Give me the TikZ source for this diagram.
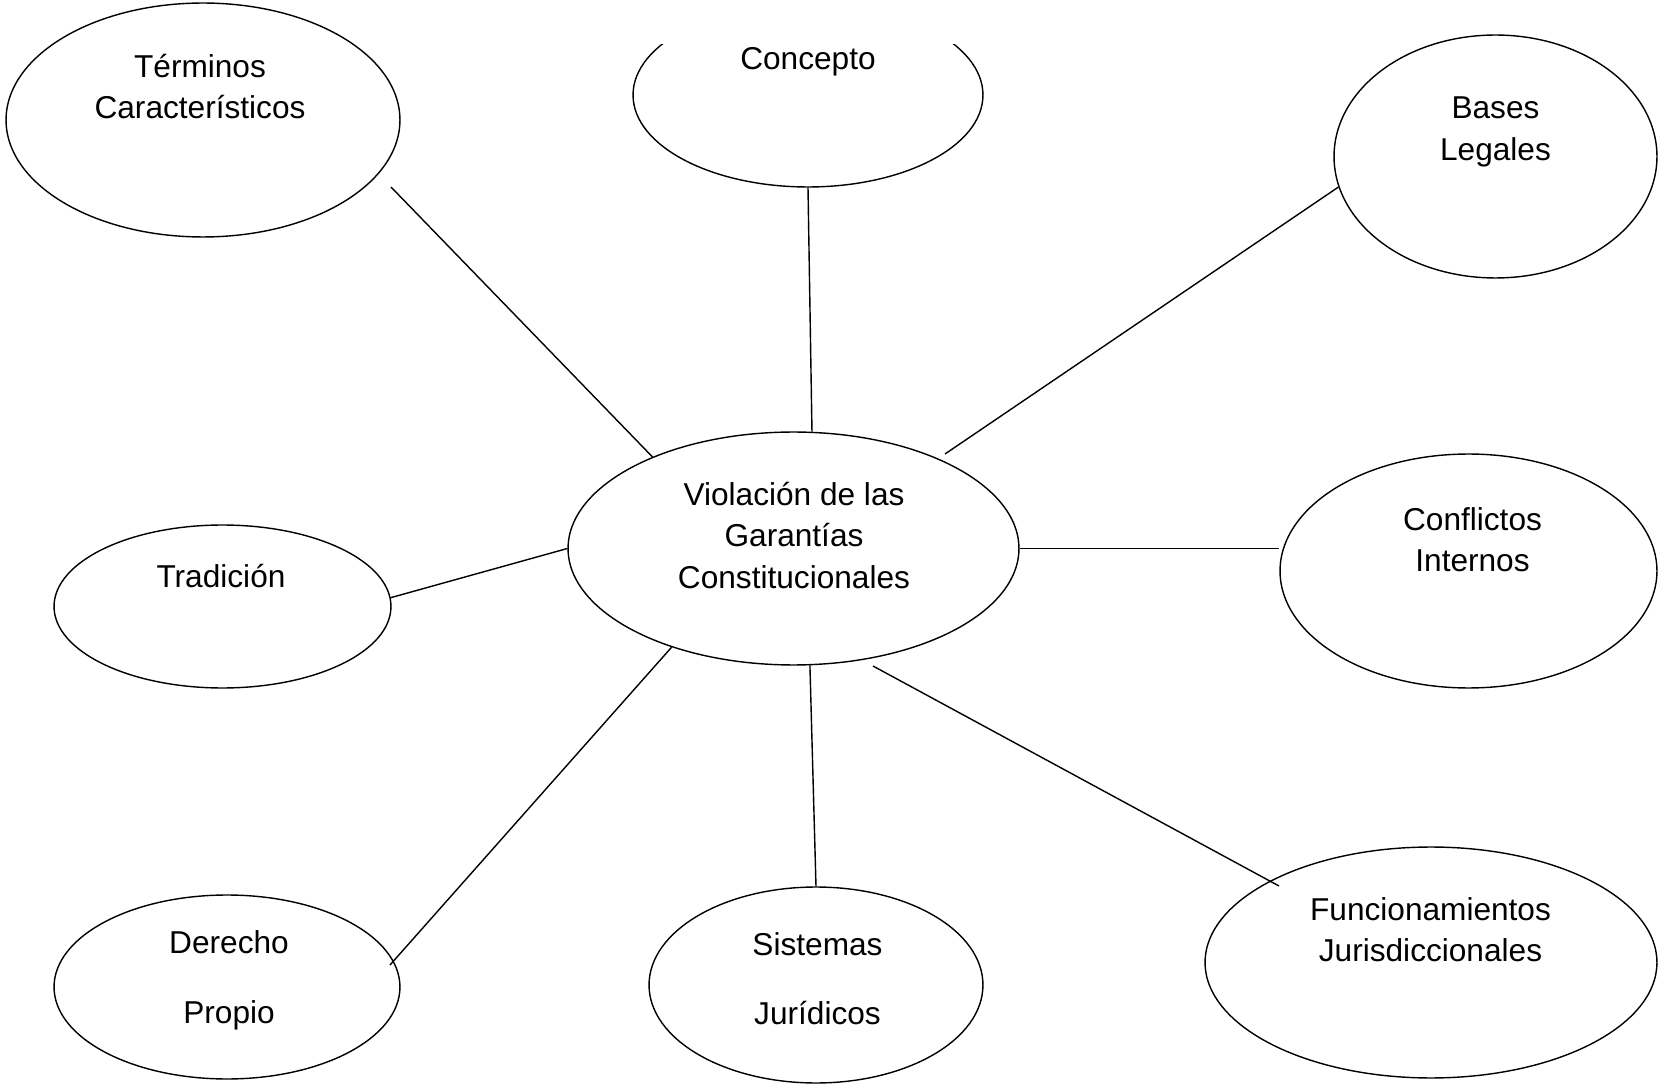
\documentclass[tikz,border=0pt]{standalone}
\usepackage{fontspec}
\setmainfont{Liberation Sans}
\usetikzlibrary{shapes.geometric}

\begin{document}
\begin{tikzpicture}[-, thick, x=0.02cm, y=-0.02cm]
\tikzstyle{globo}=[ellipse, draw=black, thick, inner sep=0pt]
\tikzstyle{texto}=[inner sep=0pt, align=center, font=\fontsize{18}{23.8}\selectfont]
\tikzstyle{texto2}=[texto, font=\fontsize{18}{39.7}\selectfont]
\useasboundingbox (0,0) rectangle (1658,1084);

\node[globo, minimum width=9.02cm, minimum height=4.66cm] (V)  at (793.5,548.5) {};
\node[globo, minimum width=7.88cm, minimum height=4.68cm] (T)  at (203,120) {};
\node[globo, minimum width=6.46cm, minimum height=4.86cm] (B)  at (1495.5,156.5) {};
\node[globo, minimum width=6.74cm, minimum height=3.26cm] (Tr) at (222.5,606.5) {};
\node[globo, minimum width=7.54cm, minimum height=4.68cm] (CI) at (1468.5,571) {};
\node[globo, minimum width=6.92cm, minimum height=3.68cm] (D)  at (227,987) {};
\node[globo, minimum width=6.68cm, minimum height=3.92cm] (S)  at (816,985) {};
\node[globo, minimum width=9.04cm, minimum height=4.62cm] (F)  at (1431,962.5) {};
\begin{scope}
\clip (0,45) rectangle (1658,1084);
\node[globo, minimum width=7cm, minimum height=3.68cm] (C) at (808,95) {};
\end{scope}

\node[texto]  (Vt)  at (794,535.5)   {Violación de las\\Garantías\\Constitucionales};
\node[texto]  (Tt)  at (200,86.5)    {Términos\\Característicos};
\node[texto]  (Ct)  at (808,62)      {Concepto};
\node[texto]  (Bt)  at (1495.5,132)  {Bases\\Legales};
\node[texto]  (Trt) at (221,576.5)   {Tradición};
\node[texto]  (CIt) at (1472.5,539.7) {Conflictos\\Internos};
\node[texto2] (Dt)  at (229,980)     {Derecho\\Propio};
\node[texto2] (St)  at (817.5,978.7) {Sistemas\\Jurídicos};
\node[texto]  (Ft)  at (1430.5,929.7) {Funcionamientos\\Jurisdiccionales};

\coordinate (t1) at (391,187);
\coordinate (b1) at (945,454);
\coordinate (d1) at (390,965);
\coordinate (f0) at (873,666);
\coordinate (f1) at (1279,886);

\draw (V.147) -- (t1);
\draw (V.81) -- (C.south);
\draw (b1) -- (B.191);
\draw (Tr.3) -- (V.west);
\draw (V.east) -- (V.east -| CI.west);
\draw (V.219) -- (d1);
\draw (V.278) -- (S.north);
\draw (f0) -- (f1);
%\draw (V) -- (F);
\end{tikzpicture}
\end{document}
